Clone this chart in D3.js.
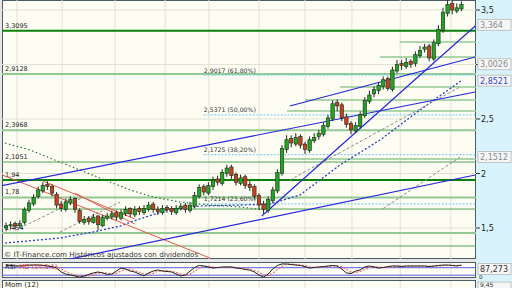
<!DOCTYPE html>
<meta charset="UTF-8">
<style>
body { margin: 0; background: #fff; }
svg text { font-family: "DejaVu Sans", sans-serif; }
</style>
<body>
<script src="https://d3js.org/d3.v7.min.js"></script>
<script>

// weekly candles, index 0..99
var open  = [1.50,1.52,1.54,1.52,1.55,1.66,1.72,1.79,1.84,1.90,
             1.88,1.81,1.72,1.67,1.73,1.77,1.66,1.55,1.59,1.55,
             1.61,1.52,1.59,1.60,1.64,1.59,1.63,1.68,1.62,1.68,
             1.64,1.67,1.72,1.67,1.64,1.69,1.68,1.64,1.68,1.71,
             1.66,1.70,1.79,1.88,1.82,1.88,1.95,1.91,2.00,2.06,
             1.99,1.91,1.97,1.90,1.88,1.80,1.72,1.66,1.75,1.84,
             2.00,2.22,2.32,2.27,2.34,2.27,2.21,2.30,2.34,2.36,
             2.43,2.50,2.65,2.63,2.52,2.46,2.39,2.43,2.53,2.66,
             2.73,2.76,2.80,2.87,2.77,2.94,3.01,2.98,3.03,3.01,
             3.08,3.14,3.17,3.05,3.19,3.31,3.47,3.56,3.49,3.51];
var high  = [1.55,1.56,1.56,1.57,1.69,1.76,1.81,1.88,1.92,1.93,
             1.90,1.83,1.75,1.77,1.79,1.78,1.68,1.61,1.61,1.63,
             1.62,1.62,1.64,1.66,1.66,1.67,1.70,1.69,1.70,1.70,
             1.71,1.74,1.74,1.70,1.71,1.71,1.70,1.71,1.73,1.73,
             1.74,1.83,1.90,1.90,1.92,1.97,1.98,2.04,2.08,2.08,
             2.01,1.99,1.99,1.93,1.90,1.82,1.75,1.79,1.88,2.04,
             2.26,2.35,2.35,2.37,2.36,2.29,2.34,2.37,2.40,2.47,
             2.54,2.67,2.68,2.65,2.55,2.48,2.47,2.57,2.70,2.76,
             2.80,2.84,2.89,2.89,2.98,3.04,3.04,3.06,3.05,3.12,
             3.17,3.19,3.19,3.23,3.36,3.52,3.60,3.59,3.56,3.58];
var low   = [1.47,1.49,1.49,1.50,1.53,1.64,1.70,1.77,1.82,1.85,
             1.79,1.68,1.65,1.65,1.71,1.64,1.54,1.53,1.53,1.54,
             1.48,1.51,1.57,1.58,1.57,1.57,1.61,1.60,1.60,1.62,
             1.62,1.65,1.64,1.62,1.62,1.64,1.62,1.62,1.66,1.64,
             1.64,1.68,1.77,1.80,1.80,1.85,1.89,1.89,1.97,1.95,
             1.89,1.89,1.86,1.84,1.76,1.67,1.63,1.64,1.73,1.82,
             1.98,2.19,2.24,2.25,2.23,2.18,2.19,2.28,2.31,2.34,
             2.41,2.48,2.57,2.48,2.42,2.36,2.37,2.41,2.51,2.64,
             2.70,2.73,2.77,2.76,2.75,2.92,2.95,2.96,2.97,2.98,
             3.06,3.11,3.03,3.03,3.17,3.29,3.44,3.46,3.47,3.49];
var close = [1.52,1.53,1.52,1.54,1.67,1.73,1.78,1.85,1.89,1.88,
             1.82,1.71,1.68,1.74,1.76,1.67,1.56,1.58,1.56,1.60,
             1.53,1.60,1.61,1.63,1.60,1.64,1.67,1.63,1.67,1.65,
             1.68,1.71,1.67,1.65,1.68,1.67,1.65,1.68,1.70,1.67,
             1.71,1.80,1.87,1.83,1.89,1.94,1.92,2.01,2.05,1.98,
             1.92,1.96,1.89,1.87,1.79,1.71,1.67,1.76,1.85,2.01,
             2.23,2.31,2.28,2.33,2.26,2.22,2.31,2.33,2.37,2.44,
             2.51,2.64,2.62,2.51,2.45,2.40,2.44,2.54,2.67,2.72,
             2.77,2.81,2.86,2.78,2.95,3.00,2.99,3.02,3.00,3.09,
             3.13,3.16,3.06,3.20,3.32,3.48,3.55,3.50,3.52,3.55];

var rsi = [84,82,79,79,82,84,84,84,82,79, 76,68,47,36,31,26,20,26,34,42,
           47,42,34,36,52,68,63,52,47,36, 26,42,52,58,52,50,47,36,26,31,
           52,71,82,79,74,68,71,74,74,74, 68,66,60,58,47,31,20,36,63,82,
           90,90,87,84,82,76,68,71,74,76, 79,82,79,63,42,39,52,58,74,79,
           74,68,71,76,79,79,76,79,79,79, 79,79,76,79,82,84,84,82,79,84];
var rsiMa = [82,83,82,80,80,82,83,84,83,82, 79,74,64,50,38,31,26,24,27,34,
             41,44,41,37,41,52,61,61,54,45, 36,35,40,51,54,53,50,44,36,31,
             36,51,68,77,78,74,71,71,73,74, 72,69,65,61,55,45,33,29,40,60,
             78,87,89,87,84,81,75,72,71,74, 76,79,80,75,61,48,44,50,61,70,
             76,74,71,72,75,78,78,78,78,79, 79,79,78,78,79,81,83,83,82,82];

// moving averages drawn on price (index, price)
var blueMaIdx = [-0.2,11.7,18.9,24.8,29.1,35.0,42.2,50.9,57.4,63.9,72.6,81.3,90.0,99];
var blueMaVal = [1.362,1.408,1.463,1.518,1.583,1.665,1.702,1.711,1.720,1.803,2.078,2.307,2.583,2.8521];
var greenMaIdx = [-0.2,5.2,11.7,20.4,27.0,32.0,37.8,44.3,50.9,56.3];
var greenMaVal = [2.280,2.216,2.106,1.959,1.849,1.784,1.739,1.711,1.693,1.665];

// support / resistance levels
var strongLevels = [3.3095, 1.94];
var softLevels = [2.9128, 2.3968, 1.78, 1.454];
var thinLevels = [2.1051, 1.674, 1.335];
var leftLabels = [3.3095, 2.9128, 2.3968, 2.1051, 1.94, 1.78, 1.454];
var shortLevels = [3.207, 3.069, 2.794, 2.674, 2.573, 2.133];
var shortFrom = [85.6, 81.3, 72.6, 65.0, 61.1, 59.6];

// fibonacci retracement
var fibVals = [2.9017, 2.5371, 2.1725, 1.7214];
var fibPct = ["61,80%", "50,00%", "38,20%", "23,60%"];
var fibFrom = 43;

// trend lines [i1, p1, i2, p2]
var blueLines = [[-1.3, 1.885, 102, 2.748],
                 [55.6, 1.610, 102, 3.353],
                 [61.7, 2.619, 102, 3.069],
                 [12.8, 1.206, 102, 1.986]];
var redLines = [[-1.3, 1.995, 44.3, 1.225],
                [8.0, 1.932, 28.0, 1.583],
                [15.0, 1.820, 28.0, 1.536]];
var grayLines = [[2.0, 1.478, 16.7, 1.781],
                 [11.7, 1.463, 24.8, 1.738],
                 [61.7, 1.940, 98.7, 2.794],
                 [82.0, 1.679, 98.7, 2.1512]];

var priceTicks = [1.5, 2, 2.5, 3, 3.5];
var axisLabels = [1.5, 2, 2.5, 3.5];
var gridIdx = [2.4, 12.2, 23.7, 34.6, 44.1, 55.0, 65.0, 75.2, 85.7, 96.7];
var valueBoxes = [3.364, 3.0026, 2.8521, 2.1512];
var boxColors = ["#8a8a8a", "#8a8a8a", "#2c48c8", "#8a8a8a"];

var rsiLast = "87,273";
var momLast = "9,45";

var fmt = function(v) { return String(v).replace(".", ","); };

var W = 512, H = 288;
var plotL = 2, plotR = 476;
var mainB = 259, rsiT = 262, rsiB = 278, momT = 280;

var x = d3.scaleLinear().domain([0, 99]).range([6, 461.4]);
var y = d3.scaleLinear().domain([1.5, 3.5]).range([228, 10]);
var yr = d3.scaleLinear().domain([15, 95]).range([278, 263]);

var svg = d3.select("body").append("svg")
    .attr("width", W).attr("height", H)
    .style("display", "block");

svg.append("rect").attr("width", W).attr("height", H).attr("fill", "#e6e6e6");
// right axis strip
svg.append("rect").attr("x", plotR).attr("y", 0).attr("width", W - plotR).attr("height", H)
    .attr("fill", "#d8f3fb");

var defs = svg.append("defs");
defs.append("clipPath").attr("id", "clipMain").append("rect")
    .attr("x", plotL).attr("y", 0).attr("width", plotR - plotL).attr("height", mainB);
defs.append("clipPath").attr("id", "clipRsi").append("rect")
    .attr("x", plotL).attr("y", rsiT).attr("width", plotR - plotL).attr("height", rsiB - rsiT);

// panels
[[0, mainB], [rsiT, rsiB], [momT, H + 5]].forEach(function(p) {
  svg.append("rect").attr("x", plotL + 0.5).attr("y", p[0] + 0.5)
      .attr("width", plotR - plotL - 1).attr("height", p[1] - p[0] - 1)
      .attr("fill", "#fdfdf4").attr("stroke", "#4c5c64").attr("stroke-width", 1);
});

var main = svg.append("g").attr("clip-path", "url(#clipMain)");

// grid
main.selectAll(".vg").data(gridIdx).enter().append("line")
    .attr("x1", function(d) { return x(d); }).attr("x2", function(d) { return x(d); })
    .attr("y1", 0).attr("y2", mainB).attr("stroke", "#e2e2d2");
main.selectAll(".hg").data(priceTicks).enter().append("line")
    .attr("x1", plotL).attr("x2", plotR)
    .attr("y1", function(d) { return y(d); }).attr("y2", function(d) { return y(d); })
    .attr("stroke", "#e2e2d2");
svg.append("g").selectAll("line").data(gridIdx).enter().append("line")
    .attr("x1", function(d) { return x(d); }).attr("x2", function(d) { return x(d); })
    .attr("y1", rsiT + 1).attr("y2", rsiB - 1).attr("stroke", "#e2e2d2");
svg.append("g").selectAll("line").data(gridIdx).enter().append("line")
    .attr("x1", function(d) { return x(d); }).attr("x2", function(d) { return x(d); })
    .attr("y1", momT + 1).attr("y2", H).attr("stroke", "#e2e2d2");

// horizontal levels
function hline(g, vals, from, color, w) {
  g.selectAll(null).data(vals).enter().append("line")
      .attr("x1", function(d, i) { return from ? x(from[i]) : plotL; })
      .attr("x2", plotR)
      .attr("y1", function(d) { return y(d); }).attr("y2", function(d) { return y(d); })
      .attr("stroke", color).attr("stroke-width", w);
}
hline(main, softLevels, null, "#92c892", 2);
hline(main, thinLevels, null, "#4ea24e", 1);
hline(main, strongLevels, null, "#0b800b", 2);
hline(main, shortLevels, shortFrom, "#92c892", 1.5);

main.selectAll(".ll").data(leftLabels).enter().append("text")
    .attr("x", 5).attr("y", function(d) { return y(d) - 3; })
    .attr("font-size", 6.5).attr("fill", "#222")
    .text(function(d) { return fmt(d); });

// fibonacci
main.selectAll(".fib").data(fibVals).enter().append("line")
    .attr("x1", x(fibFrom)).attr("x2", plotR)
    .attr("y1", function(d) { return y(d); }).attr("y2", function(d) { return y(d); })
    .attr("stroke", "#86d3f0").attr("stroke-width", 1.3).attr("stroke-dasharray", "2,1.5");
main.selectAll(".fibt").data(fibVals).enter().append("text")
    .attr("x", x(fibFrom)).attr("y", function(d) { return y(d) - 2.5; })
    .attr("font-size", 6.2).attr("fill", "#333")
    .text(function(d, i) { return fmt(d) + " (" + fibPct[i] + ")"; });

// moving averages
var maLine = d3.line().x(function(d) { return x(d[0]); }).y(function(d) { return y(d[1]); });
main.append("path").datum(d3.zip(greenMaIdx, greenMaVal)).attr("d", maLine)
    .attr("fill", "none").attr("stroke", "#2a7a2a").attr("stroke-width", 1.2)
    .attr("stroke-dasharray", "1.5,2.5");
main.append("path").datum(d3.zip(blueMaIdx, blueMaVal)).attr("d", maLine)
    .attr("fill", "none").attr("stroke", "#2a40c8").attr("stroke-width", 1.3)
    .attr("stroke-dasharray", "2,2");

// trend lines
function seg(g, list, color, w, dash) {
  g.selectAll(null).data(list).enter().append("line")
      .attr("x1", function(d) { return x(d[0]); }).attr("y1", function(d) { return y(d[1]); })
      .attr("x2", function(d) { return x(d[2]); }).attr("y2", function(d) { return y(d[3]); })
      .attr("stroke", color).attr("stroke-width", w)
      .attr("stroke-dasharray", dash);
}
seg(main, grayLines, "#8c8c8c", 1, "3,2");
seg(main, redLines, "#e8584a", 1, null);
seg(main, blueLines, "#2626dc", 1.2, null);

// candles
var idx = d3.range(close.length);
var cg = main.append("g");
cg.selectAll(".wick").data(idx).enter().append("line")
    .attr("x1", function(i) { return x(i); }).attr("x2", function(i) { return x(i); })
    .attr("y1", function(i) { return y(high[i]); }).attr("y2", function(i) { return y(low[i]); })
    .attr("stroke", "#1c2a1c").attr("stroke-width", 1);
cg.selectAll(".body").data(idx).enter().append("rect")
    .attr("x", function(i) { return x(i) - 1.7; })
    .attr("width", 3.4)
    .attr("y", function(i) { return y(Math.max(open[i], close[i])); })
    .attr("height", function(i) { return Math.max(1, Math.abs(y(open[i]) - y(close[i]))); })
    .attr("fill", function(i) { return close[i] >= open[i] ? "#22a522" : "#c8401c"; })
    .attr("stroke", "#1c2a1c").attr("stroke-width", 0.6);

// copyright
svg.append("text").attr("x", 4).attr("y", 256.5)
    .attr("font-family", "Liberation Sans, Arial, sans-serif")
    .attr("font-size", 7.2).attr("fill", "#333")
    .text("\u00a9 IT-Finance.com  Hist\u00f3ricos ajustados con dividendos");

// right axis
var ax = svg.append("g");
ax.selectAll("line").data(priceTicks).enter().append("line")
    .attr("x1", plotR).attr("x2", plotR + 4)
    .attr("y1", function(d) { return y(d); }).attr("y2", function(d) { return y(d); })
    .attr("stroke", "#333");
ax.selectAll("text").data(axisLabels).enter().append("text")
    .attr("x", plotR + 5).attr("y", function(d) { return y(d) + 3; })
    .attr("font-size", 8).attr("fill", "#222")
    .text(function(d) { return fmt(d); });

var bx = svg.append("g").selectAll("g").data(valueBoxes).enter().append("g")
    .attr("transform", function(d) { return "translate(" + (plotR + 2) + "," + y(d) + ")"; });
bx.append("rect").attr("x", 0).attr("y", -5.5).attr("width", 33).attr("height", 11)
    .attr("fill", "#f6f6f6").attr("stroke", "#b8b8b8").attr("stroke-width", 0.8);
bx.append("text").attr("x", 2).attr("y", 3).attr("font-size", 8)
    .attr("fill", function(d, i) { return boxColors[i]; })
    .text(function(d) { return fmt(d); });

// RSI panel
var rg = svg.append("g").attr("clip-path", "url(#clipRsi)");
rg.selectAll("line").data([70, 30]).enter().append("line")
    .attr("x1", plotL).attr("x2", plotR)
    .attr("y1", function(d) { return yr(d); }).attr("y2", function(d) { return yr(d); })
    .attr("stroke", "#5a5ae0").attr("stroke-width", 1);
rg.append("path").datum(idx)
    .attr("d", d3.line().x(function(i) { return x(i); }).y(function(i) { return yr(rsiMa[i]); }))
    .attr("fill", "none").attr("stroke", "#f07070").attr("stroke-width", 1.2)
    .attr("stroke-dasharray", "2,1.5");
rg.append("path").datum(idx)
    .attr("d", d3.line().x(function(i) { return x(i); }).y(function(i) { return yr(rsi[i]); }))
    .attr("fill", "none").attr("stroke", "#202020").attr("stroke-width", 1);
svg.append("text").attr("x", 5).attr("y", 269).attr("font-size", 6.5).attr("fill", "#222").text("RSI");
svg.append("text").attr("x", 19).attr("y", 269).attr("font-size", 6.5).attr("fill", "#e04848").text("MD (14,3,1)");

var rb = svg.append("g").attr("transform", "translate(" + (plotR + 2) + "," + 269 + ")");
rb.append("rect").attr("x", 0).attr("y", -5.5).attr("width", 33).attr("height", 11)
    .attr("fill", "#f6f6f6").attr("stroke", "#b8b8b8").attr("stroke-width", 0.8);
rb.append("text").attr("x", 2).attr("y", 3).attr("font-size", 8).attr("fill", "#333").text(rsiLast);
svg.append("text").attr("x", plotR + 3).attr("y", 279.3).attr("font-size", 5.5).attr("fill", "#222").text("0");

// Momentum panel
svg.append("text").attr("x", 5).attr("y", 286.5).attr("font-size", 7).attr("fill", "#222").text("Mom (12)");
var mb = svg.append("g").attr("transform", "translate(" + (plotR + 2) + "," + 285 + ")");
mb.append("rect").attr("x", 0).attr("y", -3).attr("width", 33).attr("height", 7)
    .attr("fill", "#f6f6f6").attr("stroke", "#b8b8b8").attr("stroke-width", 0.8);
mb.append("text").attr("x", 2).attr("y", 2).attr("font-size", 6).attr("fill", "#333").text(momLast);

</script>
</body>
